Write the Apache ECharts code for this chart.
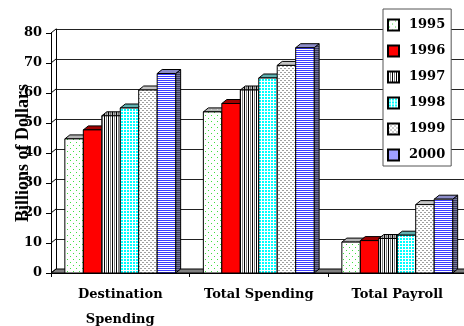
<!DOCTYPE html>
<html>
<head>
<meta charset="utf-8">
<script src="https://cdn.jsdelivr.net/npm/echarts@6/dist/echarts.min.js"></script>
<style>
  html, body { margin: 0; padding: 0; background: #fff; }
  #main { width: 464px; height: 326px; }
</style>
</head>
<body>
<div id="main"></div>
<script>
  // data
  var categories = ['Destination\nSpending', 'Total Spending', 'Total Payroll'];
  var years = ['1995', '1996', '1997', '1998', '1999', '2000'];
  var v1995 = [44.7, 53.7, 10.3];
  var v1996 = [47.7, 56.5, 10.8];
  var v1997 = [52.4, 61.0, 11.5];
  var v1998 = [55.0, 65.0, 12.6];
  var v1999 = [61.0, 69.2, 22.8];
  var v2000 = [66.5, 75.1, 24.6];
  var yTicks = [0, 10, 20, 30, 40, 50, 60, 70, 80];
  var values = [v1995, v1996, v1997, v1998, v1999, v2000];

  // depth offset of the fake 3d
  var DX = 5, DY = -4;

  function pat(w, h, bg, dots) {
    var c = document.createElement('canvas');
    c.width = w; c.height = h;
    var g = c.getContext('2d');
    g.fillStyle = bg;
    g.fillRect(0, 0, w, h);
    dots.forEach(function (d) {
      g.fillStyle = d[4];
      g.fillRect(d[0], d[1], d[2], d[3]);
    });
    return { image: c, repeat: 'repeat' };
  }

  // front / top / side fills per year
  var skins = [
    { front: pat(6, 6, '#ffffff', [[1, 1, 1, 1, '#3ee03e'], [4, 4, 1, 1, '#3ee03e']]),
      top: pat(6, 6, '#b4b4b4', [[1, 1, 1, 1, '#d8d8d8']]), side: '#8a8a8a' },
    { front: '#ff0000', top: '#a00000', side: '#7a0000' },
    { front: pat(4, 1, '#ffffff', [[0, 0, 1, 1, '#000000'], [2, 0, 1, 1, '#808080']]),
      top: pat(4, 1, '#b8b8b8', [[0, 0, 1, 1, '#000000'], [2, 0, 1, 1, '#707070']]),
      side: pat(4, 1, '#808080', [[0, 0, 1, 1, '#000000']]) },
    { front: pat(3, 3, '#00ffff', [[0, 0, 3, 1, '#ffffff'], [0, 0, 1, 3, '#ffffff']]),
      top: '#5fb0b0', side: '#2f7f7f' },
    { front: pat(4, 4, '#ffffff', [[0, 0, 2, 1, '#a0a0a0'], [2, 2, 2, 1, '#a0a0a0']]),
      top: '#c4c4c4', side: '#909090' },
    { front: pat(1, 2, '#ffffff', [[0, 0, 1, 1, '#3c3cff']]),
      top: '#8c8cc8', side: pat(1, 2, '#7a7a9a', [[0, 0, 1, 1, '#3a3a60']]) }
  ];

  var chart = echarts.init(document.getElementById('main'));

  function barSeries(i) {
    return {
      name: years[i],
      type: 'custom',
      xAxisIndex: 0,
      yAxisIndex: 0,
      z: 5,
      encode: { x: 0, y: 1 },
      itemStyle: { color: skins[i].front, borderColor: '#000', borderWidth: 1 },
      data: values[i].map(function (v, j) { return [j, v]; }),
      renderItem: function (params, api) {
        var top = api.coord([api.value(0), api.value(1)]);
        var base = api.coord([api.value(0), 0]);
        var bw = api.size([1, 0])[0];
        var w = bw * 0.8 / 6;
        var x0 = top[0] - bw * 0.4 + i * w;
        var y1 = top[1], y0 = base[1];
        var line = { stroke: '#000', lineWidth: 1 };
        return {
          type: 'group',
          children: [
            { type: 'polygon', shape: { points: [[x0 + w, y1], [x0 + w + DX, y1 + DY], [x0 + w + DX, y0 + DY], [x0 + w, y0]] },
              style: Object.assign({ fill: skins[i].side }, line) },
            { type: 'polygon', shape: { points: [[x0, y1], [x0 + DX, y1 + DY], [x0 + w + DX, y1 + DY], [x0 + w, y1]] },
              style: Object.assign({ fill: skins[i].top }, line) },
            { type: 'rect', shape: { x: x0, y: y1, width: w, height: y0 - y1 },
              style: Object.assign({ fill: skins[i].front }, line) }
          ]
        };
      }
    };
  }

  // floor and the little tick connectors to the back wall
  var frame = {
    type: 'custom',
    xAxisIndex: 0,
    yAxisIndex: 0,
    z: 3,
    silent: true,
    data: [[0, 0]],
    renderItem: function (params, api) {
      var cs = params.coordSys;
      var y0 = api.coord([0, 0])[1];
      var kids = [{
        type: 'polygon',
        shape: { points: [[cs.x, y0], [cs.x + DX, y0 + DY], [cs.x + cs.width + DX, y0 + DY], [cs.x + cs.width, y0]] },
        style: { fill: '#808080', stroke: '#000', lineWidth: 1 }
      }];
      yTicks.forEach(function (t) {
        var y = api.coord([0, t])[1];
        kids.push({ type: 'line', shape: { x1: cs.x, y1: y, x2: cs.x + DX, y2: y + DY },
          style: { stroke: '#000', lineWidth: 1 } });
      });
      return { type: 'group', children: kids };
    }
  };

  var series = [frame];
  for (var i = 0; i < years.length; i++) series.push(barSeries(i));

  chart.setOption({
    animation: false,
    textStyle: { fontFamily: 'DejaVu Serif', fontWeight: 'bold', color: '#000' },
    legend: {
      data: years,
      orient: 'vertical',
      left: 383,
      top: 9,
      width: 66,
      padding: [8, 6, 3, 4],
      itemGap: 10,
      itemWidth: 11,
      itemHeight: 11,
      icon: 'rect',
      backgroundColor: '#fff',
      borderColor: '#555',
      borderWidth: 1,
      z: 20,
      textStyle: { fontFamily: 'DejaVu Serif', fontWeight: 'bold', fontSize: 13, color: '#000', lineHeight: 16, padding: [0, 0, 0, 5] }
    },
    grid: [
      { left: 51, top: 33, right: -2.5, bottom: 53, outerBoundsMode: 'none' },
      { left: 51 + DX, top: 33 + DY, right: -2.5 - DX, bottom: 53 - DY, outerBoundsMode: 'none' }
    ],
    xAxis: [{
      type: 'category',
      gridIndex: 0,
      data: categories,
      axisLine: { show: true, lineStyle: { color: '#000', width: 1 } },
      axisTick: { show: true, length: 4, lineStyle: { color: '#000' } },
      axisLabel: { interval: 0, fontFamily: 'DejaVu Serif', fontWeight: 'bold', fontSize: 13, color: '#000', lineHeight: 25, margin: 9 }
    }, {
      type: 'category',
      gridIndex: 1,
      data: categories,
      show: false
    }],
    yAxis: [{
      type: 'value',
      gridIndex: 0,
      min: 0,
      max: 80,
      interval: 10,
      name: 'Billions of Dollars',
      nameLocation: 'middle',
      nameRotate: 90,
      nameGap: 19,
      nameMoveOverlap: false,
      nameTextStyle: { fontFamily: 'Liberation Serif', fontWeight: 'bold', fontSize: 18, color: '#000' },
      axisLine: { show: true, lineStyle: { color: '#000', width: 1 } },
      axisTick: { show: true, length: 5, lineStyle: { color: '#000' } },
      splitLine: { show: false },
      axisLabel: { fontFamily: 'DejaVu Serif', fontWeight: 'bold', fontSize: 13, color: '#000', margin: 9 }
    }, {
      type: 'value',
      gridIndex: 1,
      min: 0,
      max: 80,
      interval: 10,
      axisLine: { show: true, lineStyle: { color: '#000', width: 1 } },
      axisTick: { show: false },
      axisLabel: { show: false },
      splitLine: { show: true, lineStyle: { color: '#222', width: 1 } }
    }],
    series: series
  });
</script>
</body>
</html>
